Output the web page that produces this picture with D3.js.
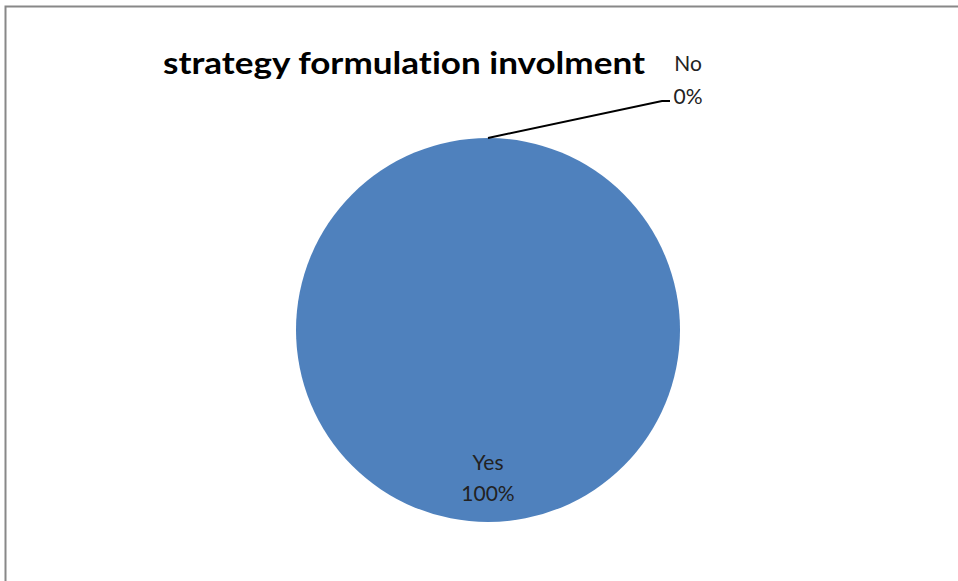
<!DOCTYPE html>
<html>
<head>
<meta charset="utf-8">
<script src="https://cdn.jsdelivr.net/npm/d3@7"></script>
<style>
  body { margin: 0; background: #fff; }
  svg { display: block; }
  text { font-variant-ligatures: none; font-feature-settings: "liga" 0; }
</style>
</head>
<body>
<div class="container"></div>
<script>
var categories = ["Yes", "No"];
var values = [100, 0];
var labels = ["100%", "0%"];
var color = ["#4F81BD", "#C0504D"];

var width = 958, height = 581;
var cx = 488, cy = 330, radius = 192;

var svg = d3.select('.container').append('svg')
	.attr("width", width)
	.attr("height", height);

// chart frame (only top and left edges show)
svg.append('path')
	.attr("d", "M5.5,581 V6.5 H958")
	.attr("fill", "none")
	.attr("stroke", "#888")
	.attr("stroke-width", 2);

svg.append('text')
	.attr("x", 163)
	.attr("y", 74)
	.attr("textLength", 482)
	.attr("lengthAdjust", "spacingAndGlyphs")
	.style("font-family", "Lato, 'Open Sans', sans-serif")
	.style("font-weight", "bold")
	.style("font-size", "30px")
	.text("strategy formulation involment");

var data = categories.map(function(c, i){
	return {name: c, value: values[i], label: labels[i]};
});

var pie = d3.pie().sort(null).value(function(d){ return d.value; });
var arc = d3.arc().innerRadius(0).outerRadius(radius);

var g = svg.append('g').attr("transform", "translate(" + cx + "," + cy + ")");

g.selectAll('path')
	.data(pie(data)).enter()
	.append('path')
	.attr("d", arc)
	.attr("fill", function(d, i){ return color[i]; });

var font = "Lato, 'Liberation Sans', sans-serif";

// Yes label inside
var slices = pie(data);
var yes = slices[0];
g.append('text')
	.attr("text-anchor", "middle")
	.attr("x", 0)
	.attr("y", 140)
	.style("font-family", font)
	.style("font-size", "21px")
	.style("fill", "#222")
	.selectAll('tspan')
	.data([yes.data.name, yes.data.label]).enter()
	.append('tspan')
	.attr("x", 0)
	.attr("dy", function(d, i){ return i ? 31 : 0; })
	.text(function(d){ return d; });

// No label outside with leader line
var no = slices[1];
var a = no.startAngle;
var px = radius * Math.sin(a), py = -radius * Math.cos(a);
g.append('polyline')
	.attr("points", [[px, py], [174, -229], [182, -229]].map(function(p){ return p.join(","); }).join(" "))
	.attr("fill", "none")
	.attr("stroke", "#000")
	.attr("stroke-width", 2);

g.append('text')
	.attr("text-anchor", "middle")
	.attr("y", -259)
	.style("font-family", font)
	.style("font-size", "21px")
	.style("fill", "#222")
	.selectAll('tspan')
	.data([no.data.name, no.data.label]).enter()
	.append('tspan')
	.attr("x", 200)
	.attr("dy", function(d, i){ return i ? 33 : 0; })
	.text(function(d){ return d; });
</script>
</body>
</html>
